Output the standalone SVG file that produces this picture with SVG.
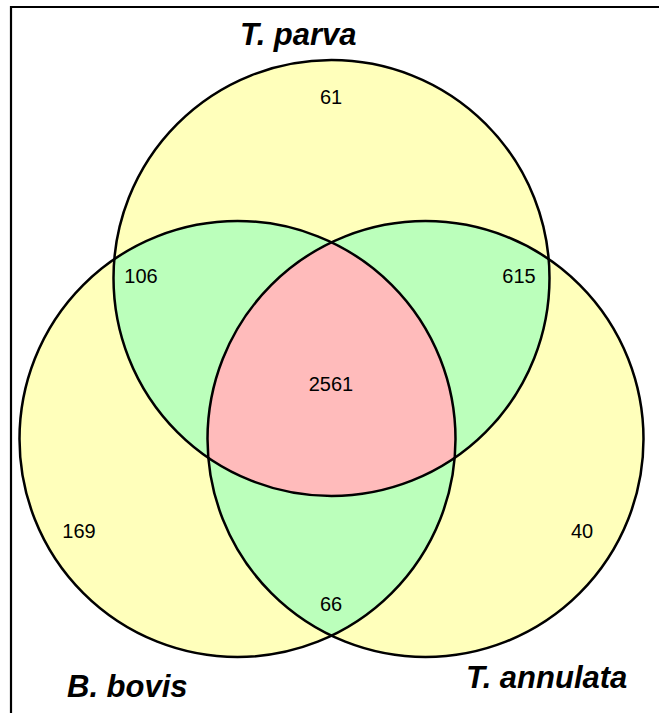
<svg xmlns="http://www.w3.org/2000/svg" width="659" height="713" viewBox="0 0 659 713">
<style>
.lbl{font-family:"Liberation Sans",Arial,sans-serif;font-size:31px;font-weight:bold;font-style:italic;fill:#000}
.num{font-family:"Liberation Sans",Arial,sans-serif;font-size:20px;fill:#000;text-anchor:middle}
.yel{fill:#ffffbb}
.grn{fill:#bbffbb}
.pnk{fill:#ffbbbb}
.ol{fill:none;stroke:#000;stroke-width:2.5}
</style>
<defs>
<clipPath id="cTop"><circle cx="331.5" cy="278" r="218"/></clipPath>
<clipPath id="cLeft"><circle cx="237.5" cy="439" r="218"/></clipPath>
<clipPath id="cRight"><circle cx="425.5" cy="439" r="218"/></clipPath>
</defs>
<rect x="0" y="0" width="659" height="713" fill="#fff"/>
<path d="M11,713 V7 H659" fill="none" stroke="#000" stroke-width="2.2"/>
<g id="fills">
<circle class="yel" cx="331.5" cy="278" r="218"/>
<circle class="yel" cx="237.5" cy="439" r="218"/>
<circle class="yel" cx="425.5" cy="439" r="218"/>
<circle class="grn" cx="237.5" cy="439" r="218" clip-path="url(#cTop)"/>
<circle class="grn" cx="425.5" cy="439" r="218" clip-path="url(#cTop)"/>
<circle class="grn" cx="425.5" cy="439" r="218" clip-path="url(#cLeft)"/>
<g clip-path="url(#cTop)"><circle class="pnk" cx="425.5" cy="439" r="218" clip-path="url(#cLeft)"/></g>
</g>
<g id="t-parva">
<circle class="ol" cx="331.5" cy="278" r="218"/>
<text class="lbl" x="240" y="45">T. parva</text>
</g>
<g id="b-bovis">
<circle class="ol" cx="237.5" cy="439" r="218"/>
<text class="lbl" x="67" y="697">B. bovis</text>
</g>
<g id="t-annulata">
<circle class="ol" cx="425.5" cy="439" r="218"/>
<text class="lbl" x="466" y="688">T. annulata</text>
</g>
<g id="counts">
<text class="num" x="331" y="104">61</text>
<text class="num" x="141" y="283">106</text>
<text class="num" x="519" y="283">615</text>
<text class="num" x="331" y="391">2561</text>
<text class="num" x="79" y="538">169</text>
<text class="num" x="582" y="538">40</text>
<text class="num" x="331" y="611">66</text>
</g>
<g id="connectors"/>
</svg>
